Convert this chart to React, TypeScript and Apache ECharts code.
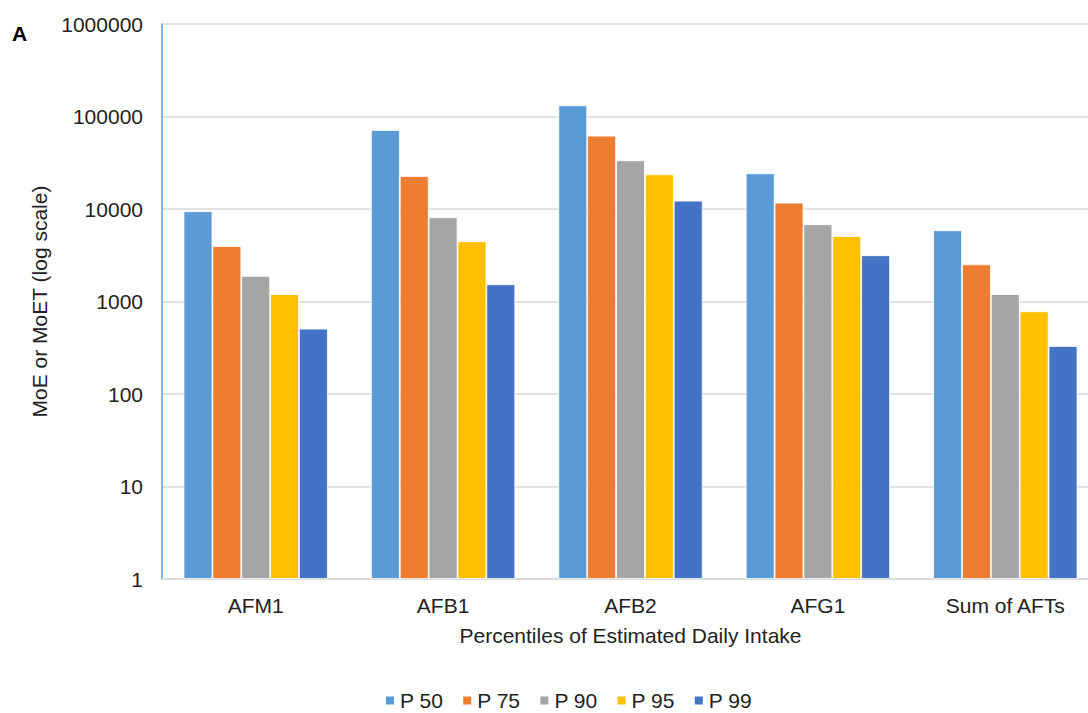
import React, { useEffect, useRef } from "react";
import * as echarts from "echarts";

const categories = ["AFM1", "AFB1", "AFB2", "AFG1", "Sum of AFTs"];
const seriesNames = ["P 50", "P 75", "P 90", "P 95", "P 99"];
const p50 = [9450, 71400, 132000, 24300, 5890];
const p75 = [3980, 22700, 62000, 11700, 2520];
const p90 = [1890, 8130, 33600, 6840, 1205];
const p95 = [1205, 4480, 23700, 5100, 783];
const p99 = [508, 1535, 12300, 3160, 330];
const yTicks = [1, 10, 100, 1000, 10000, 100000, 1000000];
const colors = ["#5B9BD5", "#ED7D31", "#A5A5A5", "#FFC000", "#4472C4"];

const FONT = "'Liberation Sans', Arial, sans-serif";

export default function App() {
  const ref = useRef<HTMLDivElement>(null);
  useEffect(() => {
    if (!ref.current) return;
    const chart = echarts.init(ref.current, undefined, { renderer: "svg" });
    const values = [p50, p75, p90, p95, p99];
    chart.setOption({
      animation: false,
      textStyle: { fontFamily: FONT },
      graphic: [
        {
          type: "text",
          left: 12,
          top: 23,
          style: { text: "A", font: `bold 21px ${FONT}`, fill: "#000" },
        },
      ],
      legend: {
        data: seriesNames,
        left: 384,
        top: 690,
        padding: 0,
        icon: "rect",
        itemWidth: 10,
        itemHeight: 10,
        itemGap: 18,
        textStyle: { fontSize: 21, color: "#222", fontFamily: FONT },
      },
      grid: {
        left: 162,
        top: 24,
        width: 937,
        height: 555,
        containLabel: false,
        outerBoundsMode: "none",
      },
      xAxis: {
        type: "category",
        data: categories,
        axisLine: { lineStyle: { color: "#D9D9D9", width: 1.5 } },
        axisTick: { show: false },
        axisLabel: { fontSize: 21, color: "#222", margin: 16, fontFamily: FONT },
        name: "Percentiles of Estimated Daily Intake",
        nameLocation: "middle",
        nameGap: 46,
        nameTextStyle: { fontSize: 21, color: "#222", fontFamily: FONT },
      },
      yAxis: {
        type: "log",
        logBase: 10,
        min: 1,
        max: 1000000,
        axisLine: { show: true, lineStyle: { color: "#5B9BD5", width: 1.5 } },
        axisTick: { show: false },
        splitLine: { lineStyle: { color: "#D9D9D9", width: 1.5 } },
        axisLabel: {
          fontSize: 21,
          color: "#222",
          margin: 19,
          fontFamily: FONT,
          formatter: (v: number) => {
            const r = yTicks.find((t) => Math.abs(t - v) / t < 1e-6);
            return r !== undefined ? String(r) : "";
          },
        },
        name: "MoE or MoET (log scale)",
        nameLocation: "middle",
        nameGap: 106,
        nameTextStyle: { fontSize: 21, color: "#222", fontFamily: FONT },
      },
      series: seriesNames.map((n, i) => ({
        name: n,
        type: "bar",
        data: values[i],
        barGap: "0%",
        barCategoryGap: "23%",
        itemStyle: { color: colors[i], borderColor: "#fff", borderWidth: 0.8 },
      })),
    });
    return () => chart.dispose();
  }, []);
  return (
    <div
      ref={ref}
      style={{ position: "fixed", left: 0, top: 0, width: 1088, height: 713, background: "#fff", overflow: "hidden" }}
    />
  );
}
